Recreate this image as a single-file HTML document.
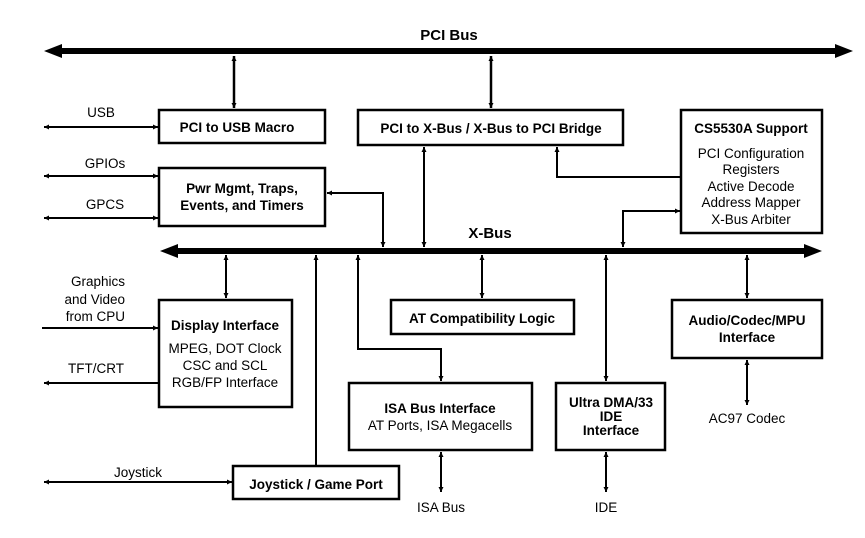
<!DOCTYPE html>
<html><head><meta charset="utf-8"><style>
html,body{margin:0;padding:0;background:#fff;}
svg{display:block;}
text{font-family:"Liberation Sans",Arial,sans-serif;fill:#000;}
.b{font-weight:bold;font-size:13.5px;}
.n{font-size:13.5px;}
</style></head><body>
<svg width="865" height="538" viewBox="0 0 865 538" xmlns="http://www.w3.org/2000/svg">
<defs>
<marker id="a" viewBox="0 0 10 10" refX="10" refY="5" markerWidth="6" markerHeight="5" orient="auto-start-reverse" markerUnits="userSpaceOnUse">
<path d="M0,0 L10,5 L0,10 z"/></marker>
</defs>
<g fill="#fff" stroke="#000" stroke-width="2.5">
<rect x="159" y="110" width="166" height="33"/>
<rect x="358" y="110" width="265" height="35"/>
<rect x="681" y="110" width="141" height="123"/>
<rect x="159" y="168" width="166" height="58"/>
<rect x="159" y="300" width="133" height="107"/>
<rect x="391" y="300" width="183" height="34"/>
<rect x="672" y="300" width="150" height="58"/>
<rect x="349" y="383" width="183" height="67"/>
<rect x="556" y="383" width="109" height="67"/>
<rect x="233" y="466" width="166" height="33"/>
</g>
<!-- buses -->
<g fill="#000">
<rect x="58" y="48" width="782" height="6"/>
<path d="M44,51 L62,44 L62,58 z"/><path d="M853,51 L835,44 L835,58 z"/>
<rect x="174" y="248" width="634" height="6"/>
<path d="M160,251 L178,244 L178,258 z"/><path d="M822,251 L804,244 L804,258 z"/>
</g>
<g stroke="#000" stroke-width="2" fill="none">
<line x1="234" y1="56" x2="234" y2="108" marker-start="url(#a)" marker-end="url(#a)" stroke-width="2.5"/>
<line x1="491" y1="56" x2="491" y2="108" marker-start="url(#a)" marker-end="url(#a)" stroke-width="2.5"/>
<line x1="44" y1="127" x2="158" y2="127" marker-start="url(#a)" marker-end="url(#a)"/>
<line x1="44" y1="176" x2="158" y2="176" marker-start="url(#a)" marker-end="url(#a)"/>
<line x1="44" y1="218" x2="158" y2="218" marker-start="url(#a)" marker-end="url(#a)"/>
<polyline points="327,193 383,193 383,247" marker-start="url(#a)" marker-end="url(#a)"/>
<line x1="424" y1="147" x2="424" y2="247" marker-start="url(#a)" marker-end="url(#a)"/>
<polyline points="680,177 557,177 557,147" marker-end="url(#a)"/>
<polyline points="623,247 623,211 680,211" marker-start="url(#a)" marker-end="url(#a)"/>
<line x1="226" y1="255" x2="226" y2="298" marker-start="url(#a)" marker-end="url(#a)"/>
<line x1="316" y1="466" x2="316" y2="255" marker-end="url(#a)"/>
<polyline points="358,255 358,349 441,349 441,381" marker-start="url(#a)" marker-end="url(#a)"/>
<line x1="482" y1="255" x2="482" y2="298" marker-start="url(#a)" marker-end="url(#a)"/>
<line x1="606" y1="255" x2="606" y2="381" marker-start="url(#a)" marker-end="url(#a)"/>
<line x1="747" y1="255" x2="747" y2="298" marker-start="url(#a)" marker-end="url(#a)"/>
<line x1="747" y1="360" x2="747" y2="405" marker-start="url(#a)" marker-end="url(#a)"/>
<line x1="441" y1="452" x2="441" y2="492" marker-start="url(#a)" marker-end="url(#a)"/>
<line x1="606" y1="452" x2="606" y2="492" marker-start="url(#a)" marker-end="url(#a)"/>
<line x1="42" y1="328" x2="158" y2="328" marker-end="url(#a)"/>
<line x1="158" y1="383" x2="44" y2="383" marker-end="url(#a)"/>
<line x1="44" y1="482" x2="232" y2="482" marker-start="url(#a)" marker-end="url(#a)"/>
</g>
<g text-anchor="middle">
<text class="b" x="449" y="40" font-size="15" style="font-size:15px">PCI Bus</text>
<text class="b" x="490" y="238" style="font-size:15px">X-Bus</text>
<text class="b" x="237" y="132">PCI to USB Macro</text>
<text class="b" x="491" y="133">PCI to X-Bus / X-Bus to PCI Bridge</text>
<text class="b" x="751" y="133">CS5530A Support</text>
<text class="n" x="751" y="158">PCI Configuration</text>
<text class="n" x="751" y="174">Registers</text>
<text class="n" x="751" y="191">Active Decode</text>
<text class="n" x="751" y="207">Address Mapper</text>
<text class="n" x="751" y="224">X-Bus Arbiter</text>
<text class="b" x="242" y="193">Pwr Mgmt, Traps,</text>
<text class="b" x="242" y="210">Events, and Timers</text>
<text class="b" x="225" y="330">Display Interface</text>
<text class="n" x="225" y="353">MPEG, DOT Clock</text>
<text class="n" x="225" y="370">CSC and SCL</text>
<text class="n" x="225" y="387">RGB/FP Interface</text>
<text class="b" x="482" y="323">AT Compatibility Logic</text>
<text class="b" x="747" y="325">Audio/Codec/MPU</text>
<text class="b" x="747" y="342">Interface</text>
<text class="b" x="440" y="413">ISA Bus Interface</text>
<text class="n" x="440" y="430">AT Ports, ISA Megacells</text>
<text class="b" x="611" y="407">Ultra DMA/33</text>
<text class="b" x="611" y="421">IDE</text>
<text class="b" x="611" y="435">Interface</text>
<text class="b" x="316" y="489">Joystick / Game Port</text>
<text class="n" x="747" y="423">AC97 Codec</text>
<text class="n" x="441" y="512">ISA Bus</text>
<text class="n" x="606" y="512">IDE</text>
<text class="n" x="101" y="117">USB</text>
<text class="n" x="105" y="168">GPIOs</text>
<text class="n" x="105" y="209">GPCS</text>
<text class="n" x="96" y="373">TFT/CRT</text>
<text class="n" x="138" y="477">Joystick</text>
</g>
<g text-anchor="end">
<text class="n" x="125" y="286">Graphics</text>
<text class="n" x="125" y="304">and Video</text>
<text class="n" x="125" y="321">from CPU</text>
</g>
</svg>
</body></html>
